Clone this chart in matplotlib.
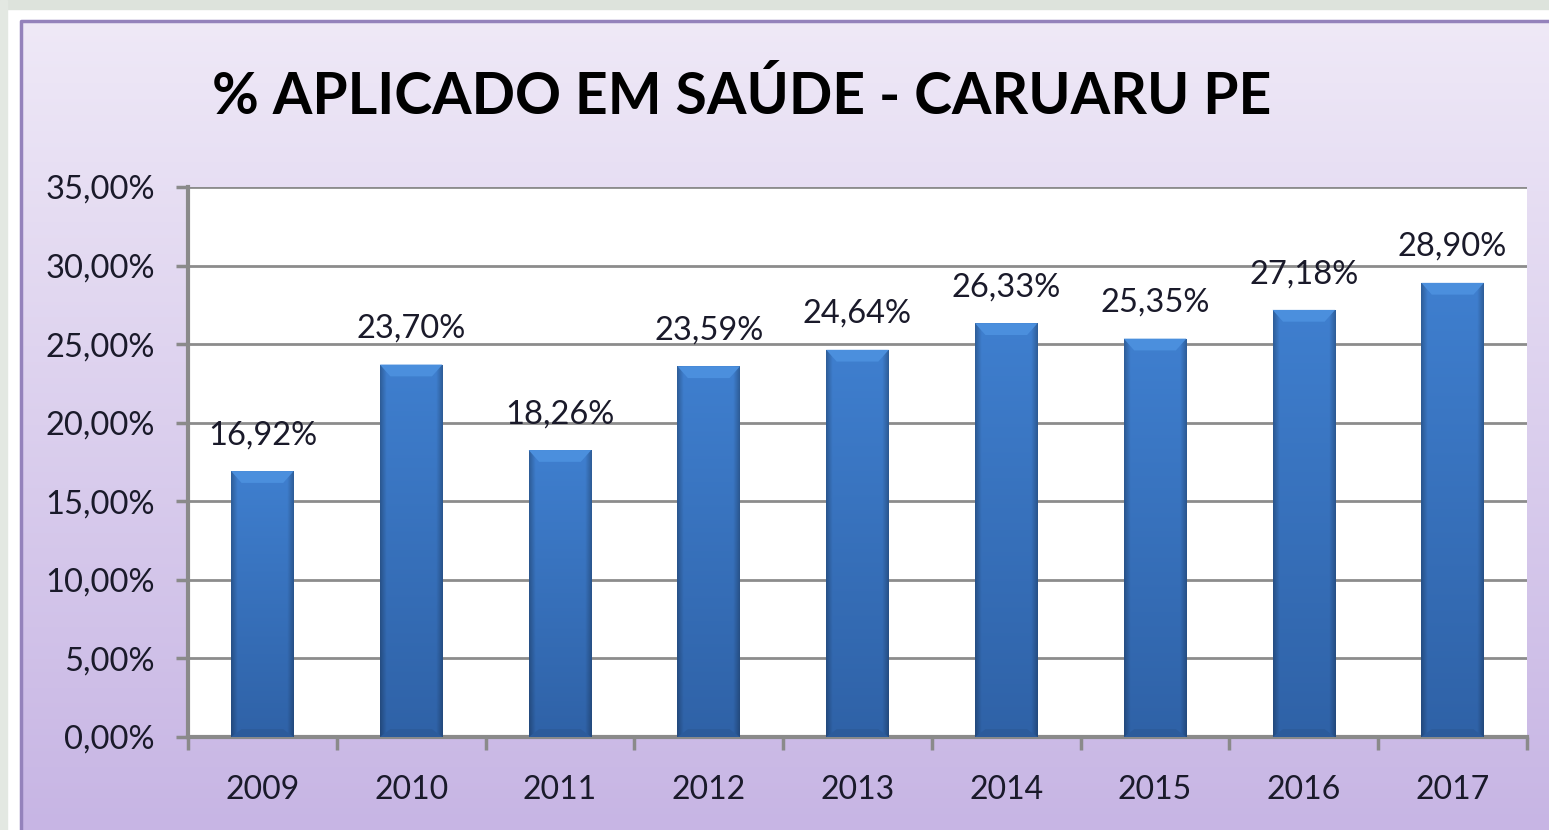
import matplotlib.pyplot as plt
import numpy as np
from matplotlib.colors import to_rgb

years = ['2009', '2010', '2011', '2012', '2013', '2014', '2015', '2016', '2017']
values = [16.92, 23.70, 18.26, 23.59, 24.64, 26.33, 25.35, 27.18, 28.90]
yticks = [0, 5, 10, 15, 20, 25, 30, 35]
title = '% APLICADO EM SAÚDE - CARUARU PE'

plt.rcParams['font.family'] = ['Lato', 'DejaVu Sans']

W, H = 1549, 830
fig = plt.figure(figsize=(W / 100, H / 100), dpi=100)

# background panel (pixel coordinates)
bg = fig.add_axes([0, 0, 1, 1])
bg.set_xlim(0, W)
bg.set_ylim(H, 0)
bg.axis('off')
bg.add_patch(plt.Rectangle((0, 0), W, H, color='white', zorder=0))
bg.add_patch(plt.Rectangle((0, 0), W, 9, color='#dde3dc', zorder=1))
bg.add_patch(plt.Rectangle((0, 0), 7, H, color='#e3e8e2', zorder=1))
top = np.array(to_rgb('#efe9f7'))
bot = np.array(to_rgb('#c7b5e4'))
t = np.linspace(0, 1, 256)[:, None, None]
grad = top * (1 - t) + bot * t
bg.imshow(grad, extent=(21, W, H, 21), aspect='auto', zorder=2)
bg.plot([21, 21, W], [H, 21, 21], color='#9482bb', lw=2.5, zorder=3)
bg.set_xlim(0, W)
bg.set_ylim(H, 0)
bg.text(742, 97, title, fontsize=41, fontweight='bold', ha='center', va='center',
        color='black', zorder=4)

ax = fig.add_axes([188 / W, (H - 737) / H, (1527 - 188) / W, (737 - 187) / H])
ax.set_facecolor('white')
x = np.arange(len(years))
bars = ax.bar(x, values, width=0.42, color='#3670ba', zorder=3)

# gradient and bevel on each bar
c_top = np.array(to_rgb('#3f7fcf'))
c_bot = np.array(to_rgb('#2f62a7'))
s = np.linspace(-1, 1, 64)
edge = np.clip((np.abs(s) - 0.8) / 0.2, 0, 1)[None, :, None]
for b in bars:
    x0, w, h = b.get_x(), b.get_width(), b.get_height()
    v = np.linspace(0, 1, 128)[:, None, None]
    img = c_top * (1 - v) + c_bot * v
    img = img * (1 - 0.25 * edge)
    im = ax.imshow(img, extent=(x0, x0 + w, 0, h), aspect='auto', zorder=4)
    im.set_clip_path(b)
    bev, ins = 0.75, 0.07
    ax.fill([x0, x0 + w, x0 + w - ins, x0 + ins], [h, h, h - bev, h - bev],
            color='#4b8fdd', zorder=5, lw=0)
    ax.fill([x0, x0 + w, x0 + w - ins, x0 + ins], [0, 0, 0.5, 0.5],
            color='#2c5b9b', zorder=5, lw=0)
    ax.annotate(f'{h:.2f}%'.replace('.', ','), (x0 + w / 2, h), xytext=(0, 15),
                textcoords='offset points', ha='center', va='bottom',
                fontsize=23.5, color='#1a1a2a')

ax.set_xlim(-0.5, len(years) - 0.5)
ax.set_ylim(0, 35)
ax.set_yticks(yticks)
ax.set_yticklabels([f'{v},00%' for v in yticks], fontsize=23.5, color='#1a1a2a')
ax.set_xticks(x)
ax.set_xticklabels(years, fontsize=23, color='#1a1a2a')
ax.tick_params(axis='x', length=0, pad=27)
ax.set_xticks(np.arange(-0.5, len(years)), minor=True)
ax.tick_params(axis='x', which='minor', length=9, width=2.5, color='#8a8a8a')
ax.tick_params(axis='y', length=9, width=2.5, color='#8a8a8a', pad=15)
ax.grid(axis='y', color='#8c8c8c', lw=2, zorder=1)
for side in ['top', 'right']:
    ax.spines[side].set_visible(False)
for side in ['left', 'bottom']:
    ax.spines[side].set_color('#8a8a8a')
    ax.spines[side].set_linewidth(3)

fig.savefig('out.png', dpi=100)
